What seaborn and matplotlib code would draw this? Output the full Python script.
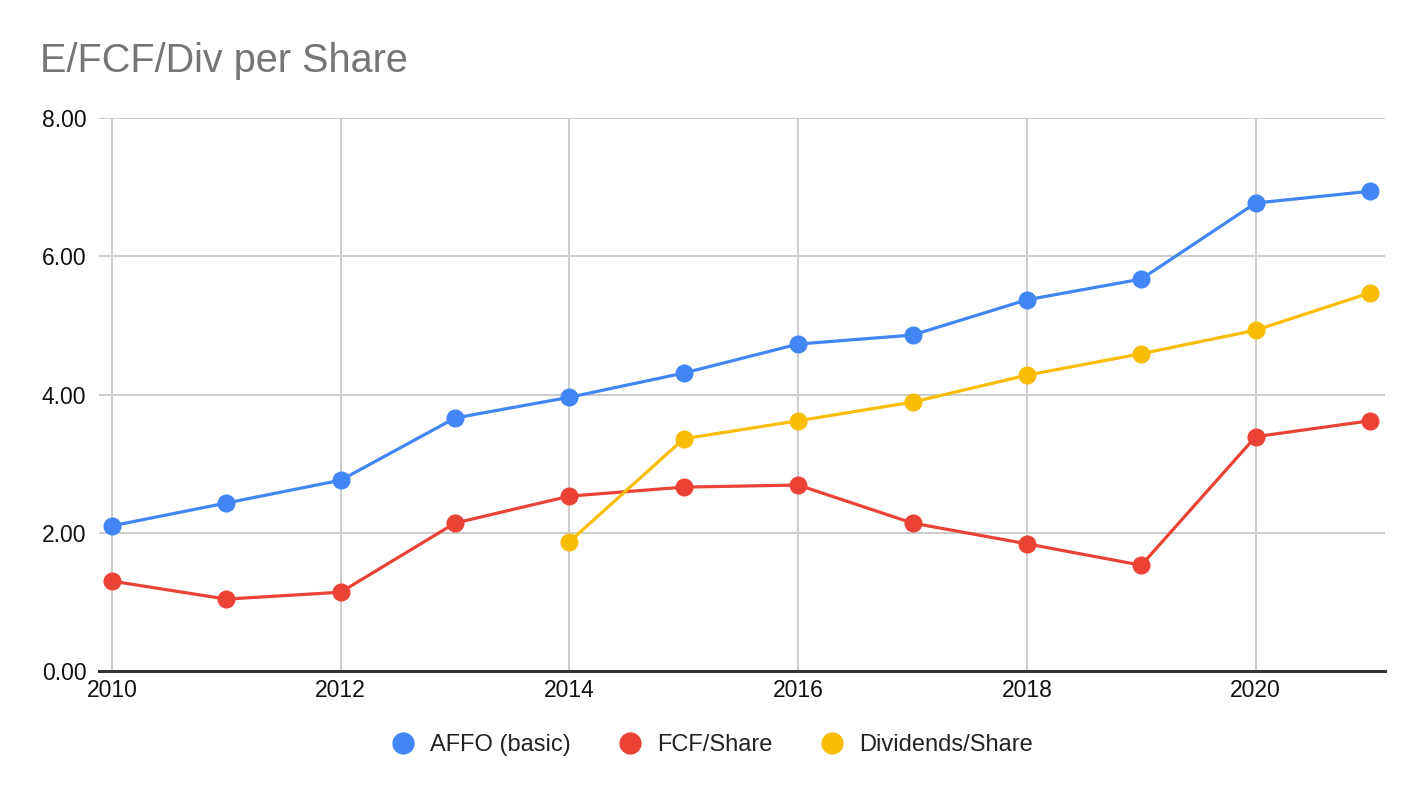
"""Per-share earnings, free cash flow and dividends, 2010-2021."""

import matplotlib

matplotlib.use("Agg")

import matplotlib.pyplot as plt
import pandas as pd
import seaborn as sns
from matplotlib.lines import Line2D

BLUE = "#4285F4"
RED = "#EA4335"
YELLOW = "#FBBC04"
GRID = "#CCCCCC"
TITLE_GREY = "#757575"

years = [2010, 2011, 2012, 2013, 2014, 2015, 2016, 2017, 2018, 2019, 2020, 2021]
affo_basic = [2.10, 2.43, 2.76, 3.66, 3.96, 4.31, 4.73, 4.86, 5.37, 5.67, 6.77, 6.94]
fcf_share = [1.30, 1.04, 1.14, 2.14, 2.53, 2.66, 2.69, 2.14, 1.84, 1.53, 3.39, 3.62]
dividends_share = [None, None, None, None, 1.87, 3.36, 3.62, 3.89, 4.28, 4.59, 4.93, 5.47]

series_names = ["AFFO (basic)", "FCF/Share", "Dividends/Share"]
palette = dict(zip(series_names, [BLUE, RED, YELLOW]))


def build_frame() -> pd.DataFrame:
    wide = pd.DataFrame(
        {
            "year": years,
            series_names[0]: affo_basic,
            series_names[1]: fcf_share,
            series_names[2]: dividends_share,
        }
    )
    long = wide.melt(id_vars="year", var_name="series", value_name="value")
    return long.dropna(subset=["value"])


def main() -> None:
    sns.set_theme(style="white")
    plt.rcParams["font.family"] = ["Liberation Sans", "DejaVu Sans"]

    data = build_frame()

    fig = plt.figure(figsize=(14.24, 7.98), dpi=100)
    ax = fig.add_axes([99 / 1424, 1 - 671 / 798, (1385 - 99) / 1424, (671 - 118) / 798])

    sns.lineplot(
        data=data,
        x="year",
        y="value",
        hue="series",
        hue_order=series_names,
        palette=palette,
        marker="o",
        markersize=13,
        markeredgewidth=0,
        linewidth=2.3,
        legend=False,
        ax=ax,
        zorder=3,
    )

    ax.set_xlim(2010 - 13 / 114.5, 2021 + 15 / 114.5)
    ax.set_ylim(0, 8)
    ax.set_xticks([2010, 2012, 2014, 2016, 2018, 2020])
    ax.set_yticks([0, 2, 4, 6, 8])
    ax.set_yticklabels([f"{v:.2f}" for v in [0, 2, 4, 6, 8]])
    ax.grid(True, color=GRID, linewidth=1.4)
    ax.tick_params(axis="both", length=0, labelsize=16.5, colors="#111111")
    ax.tick_params(axis="y", pad=9)
    ax.tick_params(axis="x", pad=6)
    ax.set_xlabel("")
    ax.set_ylabel("")
    for side in ["top", "right", "left"]:
        ax.spines[side].set_visible(False)
    ax.spines["bottom"].set_color("#333333")
    ax.spines["bottom"].set_linewidth(2.2)
    ax.spines["bottom"].set_zorder(4)

    fig.text(40 / 1424, 1 - 72 / 798, "E/FCF/Div per Share", fontsize=28.5, color=TITLE_GREY)

    handles = [
        Line2D([], [], linestyle="none", marker="o", markersize=16, markeredgewidth=0, color=palette[name])
        for name in series_names
    ]
    fig.legend(
        handles,
        series_names,
        loc="center",
        bbox_to_anchor=(0.5, 1 - 745 / 798),
        ncol=3,
        frameon=False,
        fontsize=17,
        handletextpad=0.65,
        columnspacing=2.0,
        handlelength=1.0,
        labelcolor="#222222",
    )

    fig.savefig("out.png", dpi=100, facecolor="white")
    plt.close(fig)


if __name__ == "__main__":
    main()
